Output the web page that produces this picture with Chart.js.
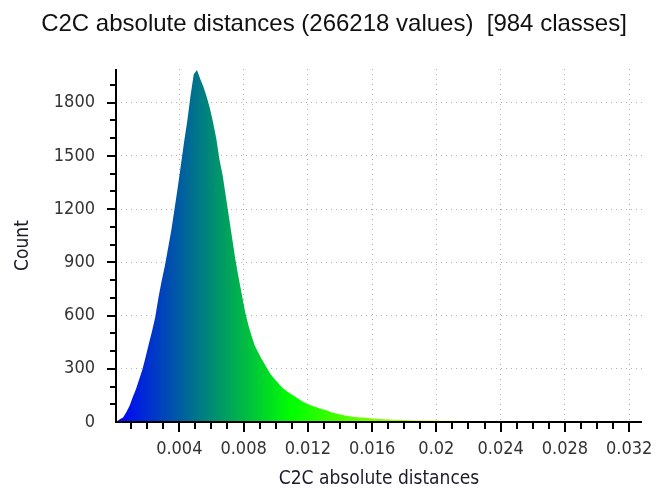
<!DOCTYPE html>
<html><head><meta charset="utf-8">
<script src="https://cdn.jsdelivr.net/npm/chart.js@4.4.1/dist/chart.umd.min.js"></script>
<style>html,body{margin:0;padding:0;background:#fff;overflow:hidden;}</style>
</head><body>
<canvas id="c" width="656" height="491"></canvas>
<script>
const chartTitle = 'C2C absolute distances (266218 values)  [984 classes]';
const xAxisTitle = 'C2C absolute distances';
const yAxisTitle = 'Count';

// histogram bins
const binStart = 0.0001;
const binWidth = 0.0002;
const counts = [
  3, 15, 26, 55, 90, 140, 185, 240, 295, 365,
  440, 510, 590, 700, 795, 880, 980, 1080, 1200, 1320,
  1450, 1580, 1700, 1840, 1960, 1985, 1935, 1890, 1835, 1770,
  1690, 1600, 1480, 1390, 1270, 1150, 1030, 910, 810, 715,
  620, 545, 485, 430, 395, 360, 328, 297, 268, 245,
  225, 205, 188, 173, 161, 150, 138, 125, 114, 105,
  97, 90, 84, 78, 72, 67, 60, 54, 49, 45,
  41, 37, 34, 31, 28, 27, 26, 25, 23, 21,
  19, 18, 17, 16, 15, 14, 13, 12, 12, 11,
  11, 10, 10, 9, 9, 9, 8, 8, 8, 8,
  8, 7, 7, 7, 7, 7, 7, 6, 6, 6,
  6, 6, 6, 5, 5, 5, 5, 5, 5, 5,
  5, 5, 4, 4, 4, 4, 4, 4, 4, 4,
  4, 4, 4, 4, 4, 3, 4, 3, 3, 3,
  3, 3, 3, 3, 4, 2, 2, 2, 2, 2,
  2, 1, 1, 1, 1, 1, 1, 1, 1, 1,
  1, 0, 0, 0
];

const xTickValues = [0.004, 0.008, 0.012, 0.016, 0.02, 0.024, 0.028, 0.032];
const xTickLabels = ['0.004', '0.008', '0.012', '0.016', '0.02', '0.024', '0.028', '0.032'];
const yTickValues = [0, 300, 600, 900, 1200, 1500, 1800];
const yTickLabels = ['0', '300', '600', '900', '1200', '1500', '1800'];
const xRange = [0.00006, 0.0328];
const yRange = [0, 1990];
const xMinorStep = 0.001;
const yMinorStep = 100;
const colorStops = [[0, 'rgb(0,0,255)'], [1/3, 'rgb(0,255,0)'], [2/3, 'rgb(255,255,0)'], [1, 'rgb(255,0,0)']];

const points = counts.map((c, i) => ({x: binStart + i * binWidth, y: c}));

const tickFont = {family: "'DejaVu Sans Condensed', 'DejaVu Sans', sans-serif", size: 18};
const titleFontAxis = {family: "'DejaVu Sans Condensed', 'DejaVu Sans', sans-serif", size: 19};

const axesPlugin = {
  id: 'axesPlugin',
  afterDatasetsDraw(chart) {
    const {ctx, chartArea: a, scales: {x, y}} = chart;
    ctx.save();
    ctx.strokeStyle = '#000';
    ctx.lineWidth = 2;
    ctx.beginPath();
    ctx.moveTo(a.left, a.top);
    ctx.lineTo(a.left, a.bottom);
    ctx.lineTo(a.right, a.bottom);
    ctx.stroke();
    ctx.beginPath();
    for (let i = 1; i * xMinorStep <= x.max + 1e-12; i++) {
      const v = i * xMinorStep;
      if (v < x.min) continue;
      const px = Math.round(x.getPixelForValue(v));
      const len = (i % 4 === 0) ? 10 : 7;
      ctx.moveTo(px, a.bottom);
      ctx.lineTo(px, a.bottom + len);
    }
    for (let i = 1; i * yMinorStep <= y.max; i++) {
      const v = i * yMinorStep;
      const py = Math.round(y.getPixelForValue(v));
      const len = (i % 3 === 0) ? 9 : 6;
      ctx.moveTo(a.left, py);
      ctx.lineTo(a.left - len, py);
    }
    ctx.stroke();
    ctx.restore();
  }
};

new Chart(document.getElementById('c'), {
  type: 'line',
  data: {
    datasets: [{
      data: points,
      fill: 'origin',
      borderWidth: 0,
      pointRadius: 0,
      tension: 0,
      backgroundColor: (context) => {
        const chart = context.chart;
        const {chartArea, scales} = chart;
        if (!chartArea) return 'rgb(0,128,128)';
        const x0 = scales.x.getPixelForValue(xRange[0]);
        const x1 = scales.x.getPixelForValue(xRange[1]);
        const g = chart.ctx.createLinearGradient(x0, 0, x1, 0);
        colorStops.forEach(([o, c]) => g.addColorStop(o, c));
        return g;
      }
    }]
  },
  options: {
    responsive: false,
    animation: false,
    devicePixelRatio: 1,
    layout: {padding: {left: 26, right: 14, top: 0, bottom: 0}},
    plugins: {
      legend: {display: false},
      tooltip: {enabled: false},
      title: {
        display: true,
        text: chartTitle,
        color: '#111',
        font: {family: "'Liberation Sans', Arial, sans-serif", size: 24, weight: 'normal'},
        padding: {top: 9.6, bottom: 30.6}
      }
    },
    scales: {
      x: {
        type: 'linear',
        min: xRange[0],
        max: xRange[1],
        afterBuildTicks: (scale) => { scale.ticks = xTickValues.map(v => ({value: v})); },
        afterFit: (scale) => { scale.height = 69; scale.paddingRight = 0; scale.paddingLeft = 0; },
        ticks: {
          autoSkip: false,
          maxRotation: 0,
          padding: 17,
          color: '#333',
          font: tickFont,
          callback: (v) => { const i = xTickValues.indexOf(v); return i >= 0 ? xTickLabels[i] : ''; }
        },
        grid: {drawTicks: false, color: '#b0b0b0', lineWidth: 1},
        border: {display: false, dash: [1, 4]},
        title: {display: true, text: xAxisTitle, color: '#1a1a2a', font: titleFontAxis, padding: {top: 0, bottom: 0.6}}
      },
      y: {
        type: 'linear',
        min: yRange[0],
        max: yRange[1],
        afterBuildTicks: (scale) => { scale.ticks = yTickValues.map(v => ({value: v})); },
        afterFit: (scale) => { scale.width = 90; },
        ticks: {
          autoSkip: false,
          padding: 21,
          color: '#333',
          font: tickFont,
          callback: (v) => { const i = yTickValues.indexOf(v); return i >= 0 ? yTickLabels[i] : ''; }
        },
        grid: {drawTicks: false, color: (c) => (c.tick && c.tick.value === 0) ? 'rgba(0,0,0,0)' : '#b0b0b0', lineWidth: 1},
        border: {display: false, dash: [1, 4]},
        title: {display: true, text: yAxisTitle, color: '#1a1a2a', font: titleFontAxis, padding: {top: -14, bottom: 0}}
      }
    }
  },
  plugins: [axesPlugin]
});
</script>
</body></html>
